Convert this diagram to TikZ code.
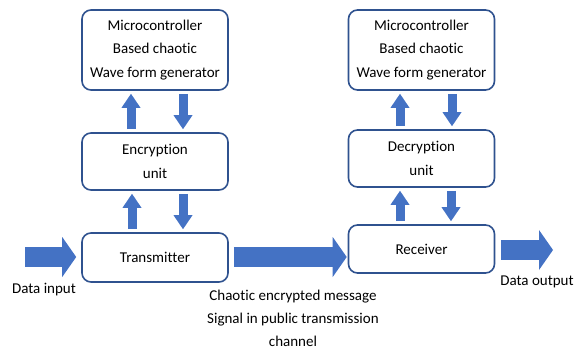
\documentclass[tikz,border=0pt]{standalone}
\usepackage{fontspec}
\setmainfont{Carlito}[Ligatures=CommonOff]
\usetikzlibrary{arrows.meta}
\definecolor{boxblue}{HTML}{2F528F}
\definecolor{arrowblue}{HTML}{4472C4}
\tikzset{
	block/.style={draw=boxblue, line width=1.6pt, rounded corners=9pt, minimum width=146pt, align=center, font=\fontsize{15}{23.5}\selectfont},
	txtlabel/.style={align=center, font=\fontsize{15}{23}\selectfont},
	smallarrow/.style={draw=arrowblue, line width=9pt, -{Triangle[width=19pt,length=14pt,line width=0pt]}, shorten <=3pt, shorten >=3pt},
	bigarrow/.style={draw=arrowblue, line width=20pt, -{Triangle[width=40pt,length=14pt,line width=0pt]}}
}

\begin{document}
\begin{tikzpicture}[x=1pt, y=-1pt]
		%%%%% START %%%%%
		\useasboundingbox (0, 0) rectangle (581, 350);
		
		% transmitter side
		\node[block, minimum height=80pt] (mcuTx) at (155, 50) {Microcontroller\\Based chaotic\\Wave form generator};
		\node[block, minimum height=57pt] (encUnit) at (155, 161.5) {Encryption\\unit};
		\node[block, minimum height=49pt] (txBox) at (155, 257.5) {Transmitter};
		
		% receiver side
		\node[block, minimum height=80pt] (mcuRx) at (421.5, 50) {Microcontroller\\Based chaotic\\Wave form generator};
		\node[block, minimum height=57pt] (decUnit) at (421.5, 158.5) {Decryption\\unit};
		\node[block, minimum height=48pt] (rxBox) at (421.5, 249) {Receiver};
		
		\coordinate (dataIn) at (25, 257);
		\coordinate (dataOut) at (553, 250);
		
		\node[txtlabel] (inLabel) at (44, 290) {Data input};
		\node[txtlabel] (outLabel) at (537, 282) {Data output};
		\node[txtlabel] (chLabel) at (293, 318) {Chaotic encrypted message\\Signal in public transmission\\channel};
		
		% vertical arrows
		\draw[smallarrow] ([xshift=-24pt]encUnit.north) -- ([xshift=-24pt]mcuTx.south);
		\draw[smallarrow] ([xshift=28pt]mcuTx.south) -- ([xshift=28pt]encUnit.north);
		\draw[smallarrow] ([xshift=-23pt]txBox.north) -- ([xshift=-23pt]encUnit.south);
		\draw[smallarrow] ([xshift=28pt]encUnit.south) -- ([xshift=28pt]txBox.north);
		
		\draw[smallarrow] ([xshift=-21.5pt]decUnit.north) -- ([xshift=-21.5pt]mcuRx.south);
		\draw[smallarrow] ([xshift=30.5pt]mcuRx.south) -- ([xshift=30.5pt]decUnit.north);
		\draw[smallarrow] ([xshift=-21.5pt]rxBox.north) -- ([xshift=-21.5pt]decUnit.south);
		\draw[smallarrow] ([xshift=29.5pt]decUnit.south) -- ([xshift=29.5pt]rxBox.north);
		
		% horizontal arrows
		\draw[bigarrow, shorten >=5pt] (dataIn) -- (dataIn -| txBox.west);
		\draw[bigarrow, shorten <=5pt, shorten >=1pt] (txBox.east |- dataIn) -- (rxBox.west |- dataIn);
		\draw[bigarrow, shorten <=6pt] (rxBox.east |- dataOut) -- (dataOut);
		%%%%% END %%%%%
	\end{tikzpicture}
\end{document}
